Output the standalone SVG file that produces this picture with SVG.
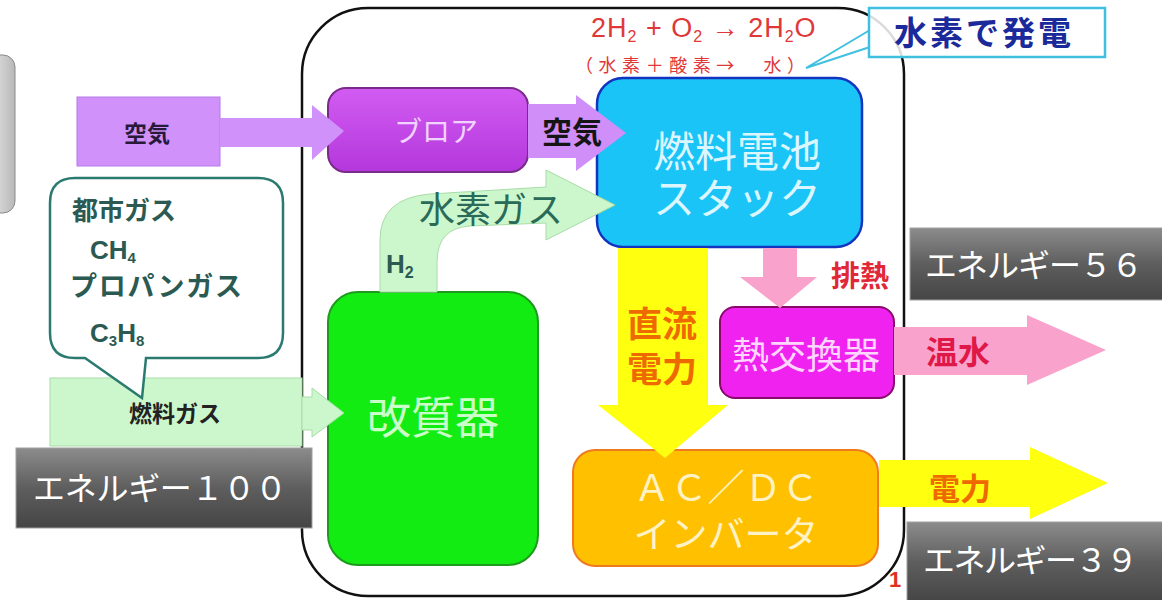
<svg xmlns="http://www.w3.org/2000/svg" width="1162" height="600" viewBox="0 0 1162 600">
<defs>
<linearGradient id="gE" x1="0" y1="0" x2="0" y2="1">
<stop offset="0" stop-color="#8c8c8c"/><stop offset="0.5" stop-color="#5e5e5e"/><stop offset="1" stop-color="#454545"/>
</linearGradient>
<linearGradient id="gL" x1="0" y1="0" x2="1" y2="0">
<stop offset="0" stop-color="#ffffff"/><stop offset="1" stop-color="#b8b8b8"/>
</linearGradient>
<linearGradient id="gB" x1="0" y1="0" x2="0" y2="1">
<stop offset="0" stop-color="#d25cf2"/><stop offset="1" stop-color="#b437dc"/>
</linearGradient>
<style>
.jp{font-family:"Noto Sans CJK JP","Liberation Sans",sans-serif}
.lat{font-family:"Liberation Sans","Noto Sans CJK JP",sans-serif}
.en{fill:url(#gE);stroke:#a0a0a0;stroke-width:1}
.ent{font-family:"Noto Sans CJK JP",sans-serif;font-size:32px;fill:#ffffff}
.lg{fill:#ccf7cc;stroke:#a8dca8;stroke-width:1}
.yel{fill:#ffff10}
.pink{fill:#f8a2cc}
.org{fill:#ee6a00;font-weight:bold}
.teal{fill:#2a5a52;font-weight:bold}
</style>
</defs>
<rect width="1162" height="600" fill="#ffffff"/>

<g id="left-tab"><rect x="-25" y="55" width="40" height="158" rx="12" fill="url(#gL)" stroke="#8a8a8a"/></g>

<g id="system-boundary"><rect x="302" y="8" width="602" height="588" rx="66" fill="none" stroke="#111" stroke-width="2.5"/></g>

<g id="equation">
<text class="lat" x="591" y="37" font-size="27" fill="#e03838" letter-spacing="1">2H<tspan font-size="16" dy="5">2</tspan><tspan dy="-5"> + O</tspan><tspan font-size="16" dy="5">2</tspan><tspan dy="-5" font-weight="bold"> → </tspan><tspan>2H</tspan><tspan font-size="16" dy="5">2</tspan><tspan dy="-5">O</tspan></text>
<text class="jp" x="575" y="72" font-size="18" fill="#e03838" textLength="230">（水素＋酸素→　水）</text>
</g>

<g id="callout">
<path d="M870,30 L806,68 L870,47" fill="none" stroke="#40c0e0" stroke-width="2"/>
<rect x="869" y="8" width="236" height="49" fill="#ffffff" fill-opacity="0.85" stroke="#40c0e0" stroke-width="2.5"/>
<text class="jp" x="894" y="45" font-size="33" font-weight="bold" fill="#1a2a9a" letter-spacing="3">水素で発電</text>
</g>

<g id="air-input">
<rect x="77" y="97" width="143" height="69" fill="#d092fa" stroke="#b878e8" stroke-width="1"/>
<text class="jp" x="147" y="142" font-size="23" font-weight="bold" fill="#2a1a3a" text-anchor="middle">空気</text>
</g>

<g id="fuel-input">
<rect x="50" y="378" width="252" height="68" class="lg"/>
<text class="jp" x="175" y="422" font-size="23" font-weight="bold" fill="#222" text-anchor="middle">燃料ガス</text>
</g>

<g id="gas-bubble">
<path d="M75,178 L258,178 Q283,178 283,203 L283,333 Q283,358 258,358 L146,358 L142,398 L85,358 L75,358 Q50,358 50,333 L50,203 Q50,178 75,178 Z" fill="#ffffff" stroke="#2a7a70" stroke-width="2.5"/>
<text class="jp teal" x="72" y="220" font-size="26">都市ガス</text>
<text class="lat teal" x="90" y="259" font-size="26">CH<tspan font-size="15" dy="4">4</tspan></text>
<text class="jp teal" x="70" y="296" font-size="27" textLength="172">プロパンガス</text>
<text class="lat teal" x="90" y="342" font-size="26">C<tspan font-size="15" dy="4">3</tspan><tspan dy="-4">H</tspan><tspan font-size="15" dy="4">8</tspan></text>
</g>

<g id="blower">
<rect x="328" y="88" width="200" height="84" rx="18" fill="url(#gB)" stroke="#7a2a8a" stroke-width="2"/>
<text class="jp" x="436" y="142" font-size="28" fill="#f0d4ff" text-anchor="middle">ブロア</text>
</g>

<g id="stack">
<rect x="597" y="78" width="265" height="169" rx="26" fill="#1ac4f6" stroke="#1234c0" stroke-width="2.5"/>
<text class="jp" font-size="42" fill="#dcf6ff" text-anchor="middle"><tspan x="737" y="167">燃料電池</tspan><tspan x="737" y="214">スタック</tspan></text>
</g>

<g id="reformer">
<rect x="328" y="292" width="210" height="273" rx="30" fill="#12ec12" stroke="#1e9a1e" stroke-width="2"/>
<text class="jp" x="433" y="434" font-size="44" fill="#caffca" text-anchor="middle">改質器</text>
</g>

<g id="heat-exchanger">
<rect x="720" y="307" width="174" height="91" rx="15" fill="#f022f0" stroke="#8a0a6a" stroke-width="2"/>
<text class="jp" x="806" y="369" font-size="37" fill="#ffd6ff" text-anchor="middle">熱交換器</text>
</g>

<g id="inverter">
<rect x="573" y="450" width="305" height="116" rx="22" fill="#ffc000" stroke="#f07a20" stroke-width="2"/>
<text class="jp" font-size="37" fill="#fff2c4" text-anchor="middle"><tspan x="726" y="501">ＡＣ／ＤＣ</tspan><tspan x="726" y="548">インバータ</tspan></text>
</g>

<g id="connectors">
<path d="M220,118 L312,118 L312,105 L344,131 L312,160 L312,147 L220,147 Z" fill="#d092fa"/>
<path d="M528,104 L576,104 L576,95 L626,133 L576,171 L576,158 L528,158 Z" fill="#cf8ef8"/>
<path d="M380,292 L380,240 Q380,198 430,194 L546,187 L546,170 L615,205 L546,240 L546,223 L470,226 Q437,228 437,262 L437,292 Z" class="lg"/>
<path d="M302,397 L312,397 L312,388 L344,413 L312,437 L312,430 L302,430 Z" class="lg"/>
<path d="M618,248 L708,248 L708,405 L728,405 L665,458 L598,405 L618,405 Z" class="yel"/>
<path d="M763,248 L797,248 L797,277 L817,277 L780,308 L740,277 L763,277 Z" class="pink"/>
<path d="M894,327 L1027,327 L1027,315 L1106,350 L1027,385 L1027,375 L894,375 Z" class="pink"/>
<path d="M879,460 L1030,460 L1030,447 L1108,483 L1030,519 L1030,507 L879,507 Z" class="yel"/>
<text class="jp" x="572" y="143" font-size="30" font-weight="bold" fill="#151515" text-anchor="middle">空気</text>
<text class="jp" x="491" y="223" font-size="36" fill="#2a6a58" text-anchor="middle">水素ガス</text>
<text class="lat teal" x="386" y="273" font-size="26" fill="#1f6a5a">H<tspan font-size="16" dy="5">2</tspan></text>
<text class="jp org" font-size="35" text-anchor="middle"><tspan x="662" y="337">直流</tspan><tspan x="662" y="382">電力</tspan></text>
<text class="jp" x="860" y="287" font-size="29" font-weight="bold" fill="#e02838" text-anchor="middle">排熱</text>
<text class="jp" x="958" y="364" font-size="32" font-weight="bold" fill="#e01848" text-anchor="middle">温水</text>
<text class="jp org" x="960" y="500" font-size="31" text-anchor="middle" fill="#ee4a00">電力</text>
</g>

<g id="page-number"><text class="lat" x="889" y="587" font-size="22" font-weight="bold" fill="#e03020">1</text></g>

<g id="energy-100">
<rect x="16" y="448" width="296" height="80" class="en"/>
<text class="ent" x="33" y="500" textLength="254">エネルギー１００</text>
</g>
<g id="energy-56">
<rect x="910" y="228" width="262" height="72" class="en"/>
<text class="ent" x="925" y="277" textLength="218">エネルギー５６</text>
</g>
<g id="energy-39">
<rect x="907" y="522" width="265" height="80" class="en"/>
<text class="ent" x="923" y="572" textLength="215">エネルギー３９</text>
</g>
</svg>
